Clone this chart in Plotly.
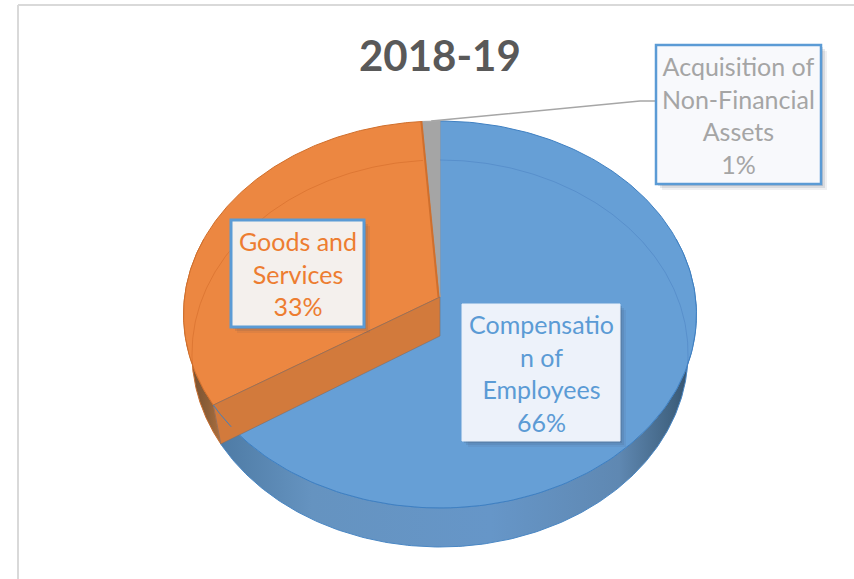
"""2018-19 expenditure split, drawn as a tilted 3D-look pie on hidden axes."""

import numpy as np
import plotly.graph_objects as go

categories = ["Compensation of Employees", "Goods and Services", "Acquisition of Non-Financial Assets"]
shares = [66.0, 32.8, 1.2]
label_texts = ["Compensatio<br>n of<br>Employees<br>66%", "Goods and<br>Services<br>33%",
               "Acquisition of<br>Non-Financial<br>Assets<br>1%"]
face_colors = ["#669fd6", "#ec8741", "#a5a5a5"]
text_colors = ["#5b9bd5", "#ed7d31", "#a5a5a5"]

# pie geometry, in canvas units
CX = 440
TOP_Y, BOTTOM_Y = 297, 336
WIDTH_TOP, WIDTH_BOTTOM = 255.4, 247
DEPTH_P, DEPTH_R = 191.9, 0.0904


def project(turn, level="top"):
    """Pie turn (0-1, clockwise from 12 o'clock) to canvas position."""
    ang = np.asarray(turn) * 2 * np.pi
    px, py = np.sin(ang), np.cos(ang)
    den = 1 + DEPTH_R * py
    w = WIDTH_TOP if level == "top" else WIDTH_BOTTOM
    y0 = TOP_Y if level == "top" else BOTTOM_Y
    return CX + w * px / den, y0 - DEPTH_P * py / den


def wedge_path(a, b):
    t = np.linspace(a, b, 200)
    x, y = project(t)
    return np.r_[CX, x, CX], np.r_[TOP_Y, y, TOP_Y]


def wall_path(a, b):
    t = np.linspace(a, b, 200)
    x1, y1 = project(t)
    x2, y2 = project(t[::-1], "bottom")
    return np.r_[x1, x2, x1[0]], np.r_[y1, y2, y1[0]]


edges = np.cumsum([0] + shares) / sum(shares)

fig = go.Figure()

# outer walls
x, y = wall_path(0.2, edges[1])
fig.add_trace(go.Scatter(
    x=x, y=y, mode="lines", fill="toself", line=dict(color="#4a87c4", width=1),
    fillgradient=dict(type="horizontal", start=183, stop=696, colorscale=[
        [0, "#35536f"], [0.08, "#4f7ca6"], [0.25, "#6593c0"], [0.6, "#6696c8"],
        [0.85, "#5f88b2"], [0.96, "#3f617f"], [1, "#2f4a66"]]),
    hoverinfo="skip"))
x, y = wall_path(edges[1], 0.8)
fig.add_trace(go.Scatter(
    x=x, y=y, mode="lines", fill="toself", line=dict(color="#c96f30", width=1),
    fillgradient=dict(type="horizontal", start=183, stop=232, colorscale=[
        [0, "#6e4a2c"], [0.5, "#8d5f38"], [1, "#c67c42"]]),
    hoverinfo="skip"))

# top faces
line_colors = ["#3f80c2", "#d06f2c", "#a5a5a5"]
for i, name in enumerate(categories):
    x, y = wedge_path(edges[i], edges[i + 1])
    fig.add_trace(go.Scatter(
        x=x, y=y, mode="lines", fill="toself", fillcolor=face_colors[i],
        line=dict(color=line_colors[i], width=1), name=name, hoverinfo="skip"))

# far rim of the base, showing through the glassy top
for a, b, col in [(0.0, 0.28, "rgba(70,125,190,0.45)"), (0.72, 0.988, "rgba(205,100,35,0.45)")]:
    x, y = project(np.linspace(a, b, 150), "bottom")
    fig.add_trace(go.Scatter(x=x, y=y, mode="lines", line=dict(color=col, width=1), hoverinfo="skip"))

# inner wall of the orange slice
ex1, ey1 = project(edges[1])
ex2, ey2 = project(edges[1], "bottom")
fig.add_trace(go.Scatter(
    x=[CX, ex1, ex2, CX, CX], y=[TOP_Y, ey1, ey2, BOTTOM_Y, TOP_Y], mode="lines", fill="toself",
    fillcolor="#d27a3c", line=dict(color="rgba(120,110,110,0.6)", width=1), hoverinfo="skip"))

# blue rim passes over the inner wall near the front
t_rim = np.linspace(edges[1] - 0.02, edges[1], 20)
x, y = project(t_rim)
fig.add_trace(go.Scatter(x=x, y=y, mode="lines", line=dict(color="#3f80c2", width=1), hoverinfo="skip"))

# darker inner edge along the grey slice, on the orange side
gx, gy = project(edges[2])
fig.add_trace(go.Scatter(x=[gx - 1, CX - 1.5], y=[gy, TOP_Y], mode="lines",
                         line=dict(color="#cf6f2d", width=2), hoverinfo="skip"))

# leader line to the small slice label
lx, ly = project((edges[2] + edges[3]) / 2)
fig.add_trace(go.Scatter(x=[lx, 640, 656], y=[ly, 101, 101], mode="lines",
                         line=dict(color="#a6a6a6", width=1.5), hoverinfo="skip"))

boxes = [
    (462, 620, 304, 441, "#edf2fa", "#e8eff9", 1),
    (231, 364, 220, 327, "#f4f0ed", "#5b9bd5", 3),
    (656, 821, 45, 184, "#f8f9fc", "#5b9bd5", 2.5),
]
shapes = [
    dict(type="line", x0=18, x1=18, y0=5, y1=579, line=dict(color="#d9d9d9", width=2), layer="below"),
    dict(type="line", x0=18, x1=854, y0=5, y1=5, line=dict(color="#d9d9d9", width=2), layer="below"),
]
annotations = [dict(x=440, y=55, text="<b>2018-19</b>", showarrow=False,
                    font=dict(family="Lato", size=42, color="#595959"))]
for (x0, x1, y0, y1, bg, border, bw), text, tc in zip(boxes, label_texts, text_colors):
    # soft shadow, then the box itself
    for off, alpha in [(6, 0.08), (4, 0.12), (2, 0.16)]:
        shapes.append(dict(type="rect", x0=x0 + off, x1=x1 + off, y0=y0 + off, y1=y1 + off,
                           fillcolor=f"rgba(60,70,90,{alpha})", line_width=0, layer="above"))
    shapes.append(dict(type="rect", x0=x0, x1=x1, y0=y0, y1=y1, fillcolor=bg,
                       line=dict(color=border, width=bw), layer="above"))
    annotations.append(dict(x=(x0 + x1) / 2, y=(y0 + y1) / 2, text=text, showarrow=False, align="center",
                            font=dict(family="Lato", size=25, color=tc)))

fig.update_layout(
    width=854, height=579, margin=dict(l=0, r=0, t=0, b=0),
    paper_bgcolor="white", plot_bgcolor="white", showlegend=False,
    xaxis=dict(visible=False, range=[0, 854], fixedrange=True),
    yaxis=dict(visible=False, range=[579, 0], fixedrange=True),
    shapes=shapes, annotations=annotations,
)

# the page's default body margin would push the chart off the window
fig.write_html("out.html", config={"displayModeBar": False},
               post_script="document.body.style.margin = '0';")
